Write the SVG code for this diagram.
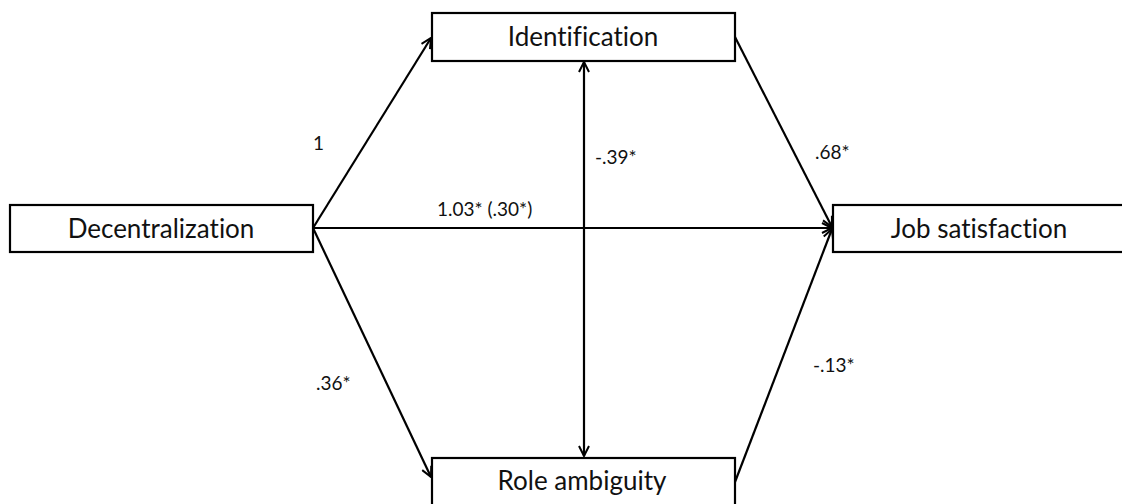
<svg xmlns="http://www.w3.org/2000/svg" width="1122" height="504" viewBox="0 0 1122 504">
<style>
.box{fill:#fff;stroke:#000;stroke-width:2.2}
.nt{font-family:Lato,"Open Sans",sans-serif;font-size:26px;fill:#111;text-anchor:middle;font-variant-ligatures:none}
.lb{font-family:Lato,"Open Sans",sans-serif;font-size:19px;fill:#111}
.ln{fill:none;stroke:#000;stroke-width:2.2}
</style>
<defs>
<marker id="ah" viewBox="0 0 12 12" refX="11" refY="6" markerWidth="12" markerHeight="12" markerUnits="userSpaceOnUse" orient="auto-start-reverse">
<path d="M1,1 L11,6 L1,11" fill="none" stroke="#000" stroke-width="2"/>
</marker>
</defs>
<rect width="1122" height="504" fill="#fff"/>
<g id="connectors">
<line class="ln" x1="313" y1="228" x2="431" y2="38" marker-end="url(#ah)"/>
<line class="ln" x1="313" y1="228" x2="431" y2="477" marker-end="url(#ah)"/>
<line class="ln" x1="313" y1="228" x2="832" y2="228" marker-end="url(#ah)"/>
<line class="ln" x1="735" y1="37" x2="832" y2="227" marker-end="url(#ah)"/>
<line class="ln" x1="735" y1="482" x2="832" y2="229" marker-end="url(#ah)"/>
<line class="ln" x1="584" y1="62" x2="584" y2="456" marker-start="url(#ah)" marker-end="url(#ah)"/>
</g>
<g id="labels">
<text class="lb" x="313" y="150">1</text>
<text class="lb" x="437" y="216">1.03* (.30*)</text>
<text class="lb" x="595" y="164">-.39*</text>
<text class="lb" x="815" y="159">.68*</text>
<text class="lb" x="316" y="390">.36*</text>
<text class="lb" x="813" y="372">-.13*</text>
</g>
<g id="decentralization">
<rect class="box" x="10" y="205" width="303" height="47"/>
<text class="nt" x="161" y="238">Decentralization</text>
</g>
<g id="identification">
<rect class="box" x="432" y="13" width="303" height="48"/>
<text class="nt" x="583" y="46">Identification</text>
</g>
<g id="role-ambiguity">
<rect class="box" x="432" y="458" width="303" height="48"/>
<text class="nt" x="582" y="490">Role ambiguity</text>
</g>
<g id="job-satisfaction">
<rect class="box" x="833" y="205" width="303" height="47"/>
<text class="nt" x="979" y="238">Job satisfaction</text>
</g>
</svg>
